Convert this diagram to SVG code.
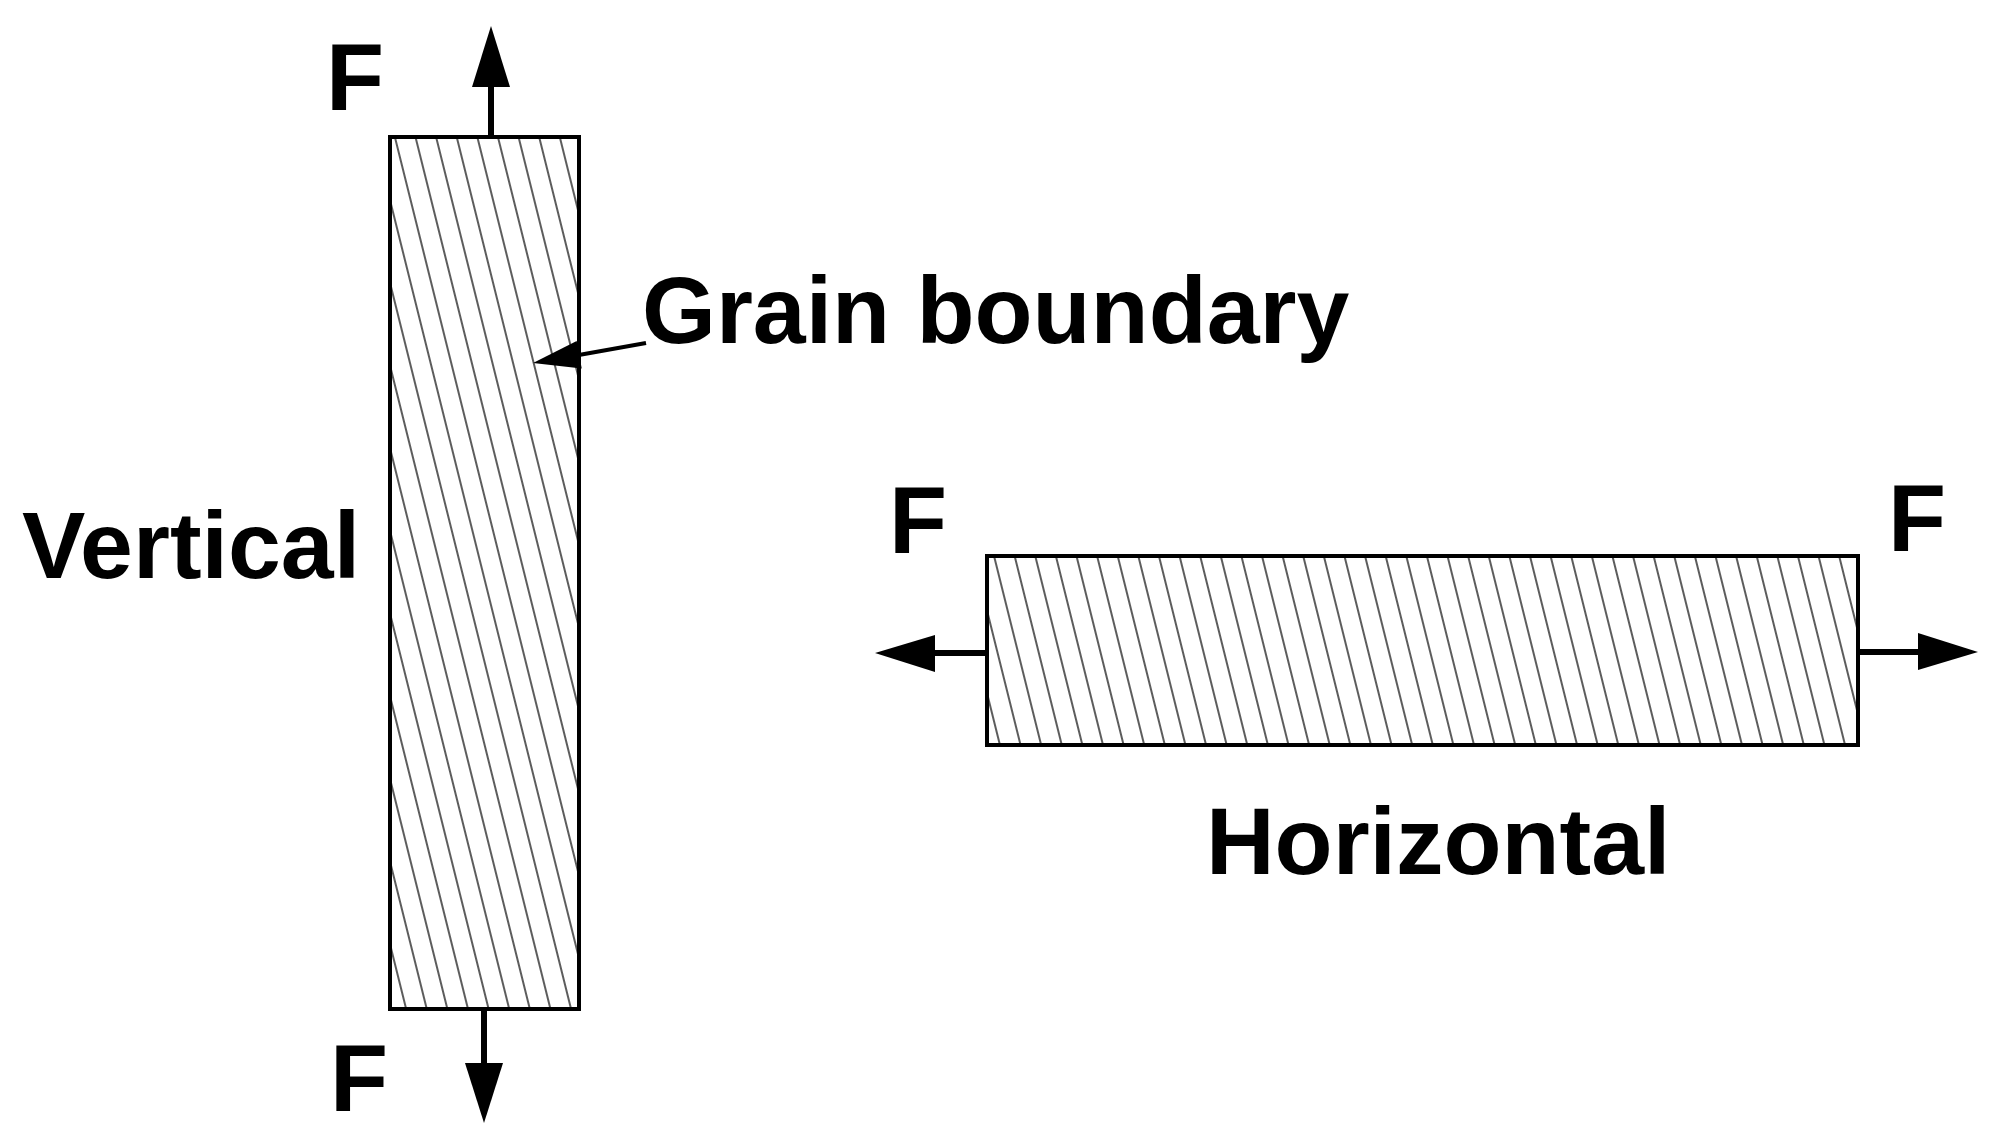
<svg xmlns="http://www.w3.org/2000/svg" width="2000" height="1148" viewBox="0 0 2000 1148">
<defs>
<pattern id="hatch" patternUnits="userSpaceOnUse" width="20" height="40" patternTransform="rotate(-14)">
<line x1="10" y1="-5" x2="10" y2="45" stroke="#333" stroke-width="1.6"/>
</pattern>
</defs>
<style>
.box{fill:url(#hatch);stroke:#000;stroke-width:4}
.shaft{stroke:#000;stroke-width:6;fill:none}
.head{fill:#000;stroke:none}
.lbl{font-family:"Liberation Sans",Arial,sans-serif;font-weight:bold;font-size:95px;fill:#000}
</style>
<rect width="2000" height="1148" fill="#fff"/>
<g id="vertical-bar">
<rect class="box" x="390" y="137" width="189" height="872"/>
<text class="lbl" x="22" y="578">Vertical</text>
</g>
<g id="horizontal-bar">
<rect class="box" x="987" y="556" width="871" height="189"/>
<text class="lbl" x="1206" y="874">Horizontal</text>
</g>
<g id="grain-label">
<text class="lbl" x="642" y="343">Grain boundary</text>
</g>
<g id="force-labels">
<text class="lbl" x="326" y="110">F</text>
<text class="lbl" x="330" y="1111">F</text>
<text class="lbl" x="889" y="553">F</text>
<text class="lbl" x="1888" y="551">F</text>
</g>
<g id="connectors">
<line class="shaft" x1="491" y1="137" x2="491" y2="85"/>
<polygon class="head" points="491,26 472,87 510,87"/>
<line class="shaft" x1="484" y1="1009" x2="484" y2="1065"/>
<polygon class="head" points="484,1123 465,1063 503,1063"/>
<line class="shaft" x1="987" y1="653" x2="933" y2="653"/>
<polygon class="head" points="875,653 935,635 935,672"/>
<line class="shaft" x1="1858" y1="652" x2="1920" y2="652"/>
<polygon class="head" points="1978,652 1918,633 1918,670"/>
<line stroke="#000" stroke-width="4" x1="646" y1="343" x2="576" y2="355.5"/>
<polygon class="head" points="533,363 581.7,368.5 576.7,340.9"/>
</g>
</svg>
